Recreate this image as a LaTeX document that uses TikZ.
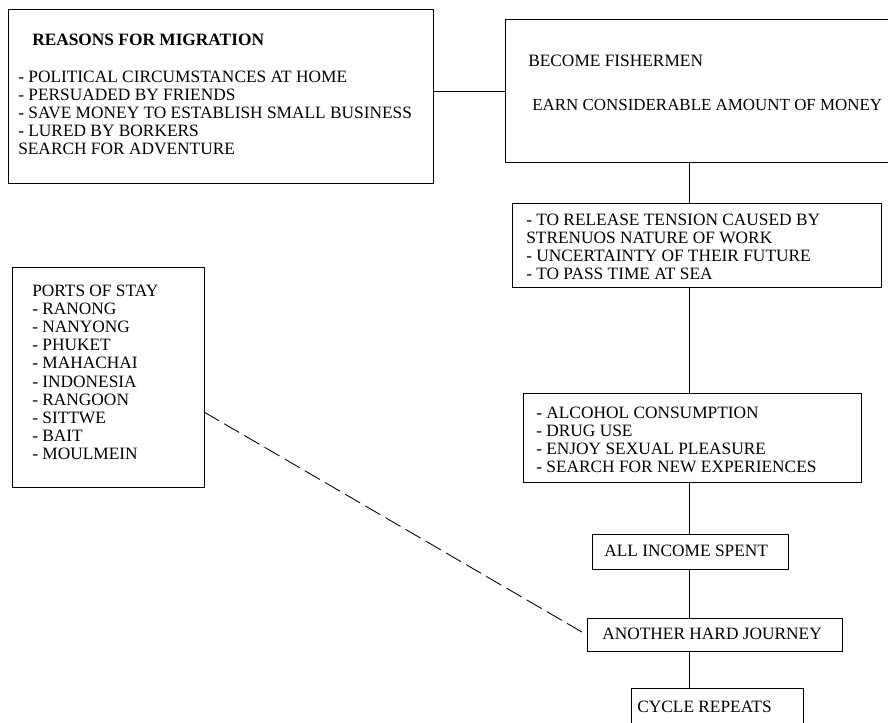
\documentclass[tikz,border=0pt]{standalone}
\usepackage{fontspec}
\setmainfont{Liberation Serif}
\begin{document}
\begin{tikzpicture}[x=0.75pt, y=-0.75pt,
  box/.style={draw=black, line width=0.75pt, inner sep=0pt, anchor=north west},
  txt/.style={inner sep=0pt, anchor=north west, align=left,
    font=\fontsize{13pt}{13.6pt}\selectfont},
  link/.style={draw=black, line width=0.75pt},
  dashlink/.style={draw=black, line width=0.65pt, dash pattern=on 13pt off 4.5pt}]
\useasboundingbox (0,0) rectangle (888,722);
\clip (0,0) rectangle (888,722);

% boxes
\node[box, minimum width=318.75pt, minimum height=130.5pt] (reasons) at (8,9) {};
\node[box, minimum width=292.5pt, minimum height=107.25pt] (fish) at (505,19) {};
\node[box, minimum width=276.75pt, minimum height=63pt] (tension) at (512,203) {};
\node[box, minimum width=144pt, minimum height=165pt] (ports) at (12,267) {};
\node[box, minimum width=253.5pt, minimum height=66.75pt] (habits) at (523,393) {};
\node[box, minimum width=147pt, minimum height=26.25pt] (spent) at (592,534) {};
\node[box, minimum width=191.25pt, minimum height=24.75pt] (journey) at (587,618) {};
\node[box, minimum width=129pt, minimum height=35.25pt] (cycle) at (631,688) {};

% texts
\node[txt, font=\fontsize{13pt}{13.6pt}\selectfont\bfseries] (reasonsT) at (32,33.6) {REASONS FOR MIGRATION};
\node[txt] (reasonsL) at (18,70.6) {- POLITICAL CIRCUMSTANCES AT HOME\\
- PERSUADED BY FRIENDS\\
- SAVE MONEY TO ESTABLISH SMALL BUSINESS\\
- LURED BY BORKERS\\
SEARCH FOR ADVENTURE};
\node[txt] (fishA) at (528,54.6) {BECOME FISHERMEN};
\node[txt, font=\fontsize{12.7pt}{13.6pt}\selectfont] (fishB) at (532,98.9) {EARN CONSIDERABLE AMOUNT OF MONEY};
\node[txt] (tensionT) at (526,213.6) {- TO RELEASE TENSION CAUSED BY\\
STRENUOS NATURE OF WORK\\
- UNCERTAINTY OF THEIR FUTURE\\
- TO PASS TIME AT SEA};
\node[txt] (portsT) at (32,284.6) {PORTS OF STAY\\
- RANONG\\
- NANYONG\\
- PHUKET\\
- MAHACHAI\\
- INDONESIA\\
- RANGOON\\
- SITTWE\\
- BAIT\\
- MOULMEIN};
\node[txt] (habitsT) at (536,406.6) {- ALCOHOL CONSUMPTION\\
- DRUG USE\\
- ENJOY SEXUAL PLEASURE\\
- SEARCH FOR NEW EXPERIENCES};
\node[txt] (spentT) at (604,544.6) {ALL INCOME SPENT};
\node[txt] (journeyT) at (602,627.6) {ANOTHER HARD JOURNEY};
\node[txt] (cycleT) at (637,700.6) {CYCLE REPEATS};

% connectors
\coordinate (spine) at (689,0);
\coordinate (portsout) at (204,412);
\draw[link] (reasons.east |- fish.west) -- (fish.west);
\draw[link] (fish.south -| spine) -- (tension.north -| spine);
\draw[link] (tension.south -| spine) -- (habits.north -| spine);
\draw[link] (habits.south -| spine) -- (spent.north -| spine);
\draw[link] (spent.south -| spine) -- (journey.north -| spine);
\draw[link] (journey.south -| spine) -- (cycle.north -| spine);
\draw[dashlink] (portsout) -- (journey.west);
\end{tikzpicture}
\end{document}
